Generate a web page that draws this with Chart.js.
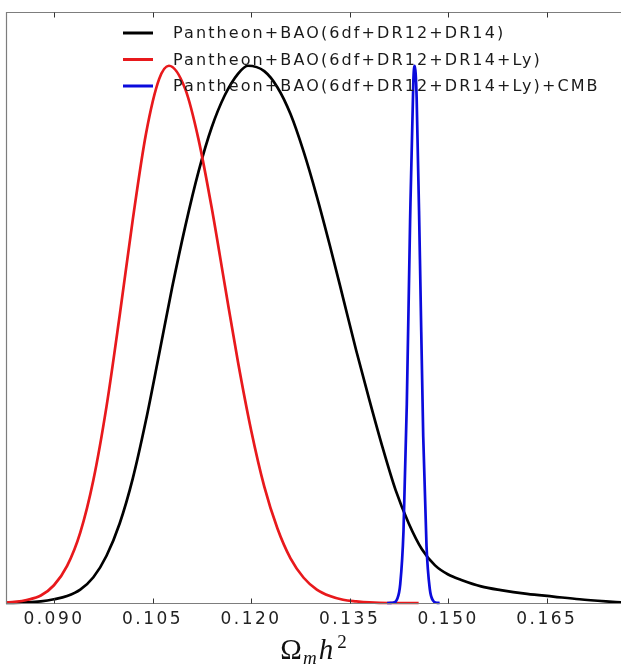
<!DOCTYPE html>
<html>
<head>
<meta charset="utf-8">
<script src="https://cdn.jsdelivr.net/npm/chart.js@4.4.1/dist/chart.umd.min.js"></script>
<style>
  html, body { margin: 0; padding: 0; background: #fff; overflow: hidden; }
  #wrap { width: 621px; height: 667px; }
</style>
</head>
<body>
<div id="wrap"><canvas id="chart"></canvas></div>
<script>
// x ticks
const tickValues = [0.090, 0.105, 0.120, 0.135, 0.150, 0.165];

const seriesLabels = [
  'Pantheon+BAO(6df+DR12+DR14)',
  'Pantheon+BAO(6df+DR12+DR14+Ly)',
  'Pantheon+BAO(6df+DR12+DR14+Ly)+CMB'
];
const seriesColors = ['#000000', '#e8191c', '#0b0bdc'];

// Pantheon+BAO(6df+DR12+DR14)
const blackX = [0.0827, 0.086, 0.088, 0.090, 0.092, 0.094, 0.096, 0.098, 0.100, 0.102, 0.104, 0.106, 0.108, 0.110, 0.112, 0.114, 0.116, 0.118, 0.1195, 0.122, 0.124, 0.126, 0.128, 0.130, 0.132, 0.134, 0.136, 0.138, 0.140, 0.142, 0.144, 0.146, 0.148, 0.150, 0.152, 0.155, 0.158, 0.162, 0.166, 0.170, 0.174, 0.1763];
const blackY = [0.000, 0.001, 0.003, 0.007, 0.013, 0.025, 0.048, 0.088, 0.148, 0.232, 0.340, 0.463, 0.588, 0.702, 0.803, 0.885, 0.945, 0.985, 1.000, 0.990, 0.960, 0.910, 0.840, 0.757, 0.665, 0.568, 0.470, 0.378, 0.290, 0.210, 0.148, 0.100, 0.070, 0.053, 0.043, 0.031, 0.024, 0.017, 0.012, 0.007, 0.003, 0.001];

// +Ly
const redX = [0.0827, 0.084, 0.086, 0.088, 0.090, 0.092, 0.094, 0.096, 0.098, 0.100, 0.102, 0.104, 0.106, 0.1075, 0.110, 0.112, 0.114, 0.116, 0.118, 0.120, 0.122, 0.124, 0.126, 0.128, 0.130, 0.132, 0.134, 0.136, 0.138, 0.141, 0.1455];
const redY = [0.001, 0.002, 0.006, 0.014, 0.033, 0.069, 0.131, 0.229, 0.366, 0.535, 0.714, 0.873, 0.975, 1.000, 0.956, 0.863, 0.736, 0.592, 0.449, 0.322, 0.217, 0.139, 0.083, 0.047, 0.025, 0.013, 0.006, 0.003, 0.001, 0.000, 0.000];

// +Ly+CMB
const blueX = [0.1407, 0.1412, 0.1417, 0.1422, 0.1427, 0.1432, 0.1437, 0.1442, 0.1447, 0.1449, 0.1452, 0.1457, 0.1462, 0.1467, 0.1472, 0.1477, 0.1482, 0.1487];
const blueY = [0.000, 0.0001, 0.0008, 0.0064, 0.035, 0.135, 0.370, 0.710, 0.973, 1.000, 0.940, 0.640, 0.310, 0.106, 0.026, 0.0044, 0.0005, 0.000];

const toPoints = (xs, ys) => xs.map((x, i) => ({ x: x, y: ys[i] }));

const spacingPlugin = {
  id: 'spacing',
  beforeLayout(chart) { chart.ctx.letterSpacing = '2.5px'; },
  beforeDraw(chart) { chart.ctx.letterSpacing = '2.5px'; }
};

// matplotlib style box with inward ticks, open on the right (cropped)
const framePlugin = {
  id: 'frame',
  afterDatasetsDraw(chart) {
    const ctx = chart.ctx;
    const a = chart.chartArea;
    const xs = chart.scales.x;
    const l = Math.round(a.left) + 0.5, t = Math.round(a.top) + 0.5, b = Math.round(a.bottom) + 0.5;
    ctx.save();
    ctx.strokeStyle = '#7d7d7d';
    ctx.lineWidth = 1.2;
    ctx.beginPath();
    ctx.moveTo(chart.width, t);
    ctx.lineTo(l, t);
    ctx.lineTo(l, b);
    ctx.lineTo(chart.width, b);
    ctx.stroke();
    ctx.strokeStyle = '#333';
    ctx.lineWidth = 1;
    tickValues.forEach(v => {
      const px = Math.round(xs.getPixelForValue(v)) + 0.5;
      ctx.beginPath();
      ctx.moveTo(px, b); ctx.lineTo(px, b - 5);
      ctx.moveTo(px, t); ctx.lineTo(px, t + 5);
      ctx.stroke();
    });
    ctx.restore();
  }
};

const legendPlugin = {
  id: 'innerLegend',
  afterDatasetsDraw(chart) {
    const ctx = chart.ctx;
    const a = chart.chartArea;
    ctx.save();
    ctx.font = '16px "DejaVu Sans"';
    ctx.letterSpacing = '2.1px';
    ctx.textBaseline = 'middle';
    ctx.fillStyle = '#1a1a1a';
    seriesLabels.forEach((label, i) => {
      const y = a.top + 21 + i * 26.5;
      ctx.strokeStyle = seriesColors[i];
      ctx.lineWidth = 3;
      ctx.beginPath();
      ctx.moveTo(a.left + 117, y);
      ctx.lineTo(a.left + 147, y);
      ctx.stroke();
      ctx.fillText(label, a.left + 167, y + 1);
    });
    ctx.restore();
  }
};

const axisTitlePlugin = {
  id: 'axisTitle',
  afterDraw(chart) {
    const ctx = chart.ctx;
    const a = chart.chartArea;
    const big = '29px "Liberation Serif"';
    const bigI = 'italic 29px "Liberation Serif"';
    const small = 'italic 19px "Liberation Serif"';
    const smallR = '19px "Liberation Serif"';
    const parts = [
      { s: '\u03A9', f: big, dy: 0, gap: 1 },
      { s: 'm', f: small, dy: 5, gap: 2 },
      { s: 'h', f: bigI, dy: 0, gap: 4 },
      { s: '2', f: smallR, dy: -11, gap: 0 }
    ];
    ctx.save();
    ctx.letterSpacing = '0px';
    ctx.fillStyle = '#111';
    ctx.textBaseline = 'alphabetic';
    let total = 0;
    parts.forEach(p => { ctx.font = p.f; p.w = ctx.measureText(p.s).width + p.gap; total += p.w; });
    let x = (a.left + chart.width) / 2 - total / 2;
    const base = 659;
    parts.forEach(p => {
      ctx.font = p.f;
      ctx.fillText(p.s, x, base + p.dy);
      x += p.w;
    });
    ctx.restore();
  }
};

const ctx = document.getElementById('chart').getContext('2d');
const chart = new Chart(ctx, {
  type: 'line',
  data: {
    datasets: [
      { label: seriesLabels[0], data: toPoints(blackX, blackY), borderColor: seriesColors[0], order: 2 },
      { label: seriesLabels[1], data: toPoints(redX, redY), borderColor: seriesColors[1], order: 1 },
      { label: seriesLabels[2], data: toPoints(blueX, blueY), borderColor: seriesColors[2], order: 0 }
    ]
  },
  options: {
    responsive: true,
    maintainAspectRatio: false,
    animation: false,
    devicePixelRatio: 1,
    datasets: {
      line: {
        borderWidth: 2.7,
        pointRadius: 0,
        fill: false,
        cubicInterpolationMode: 'monotone',
        clip: 4
      }
    },
    layout: { padding: { left: 6, top: 12, right: 0, bottom: 34 } },
    scales: {
      x: {
        type: 'linear',
        min: 0.0827,
        max: 0.1763,
        afterBuildTicks: s => { s.ticks = tickValues.map(v => ({ value: v })); },
        afterFit: s => { s.height = 30; },
        grid: { display: false },
        border: { display: false },
        ticks: {
          autoSkip: false,
          maxRotation: 0,
          padding: -2,
          color: '#222',
          font: { family: 'DejaVu Sans', size: 17 },
          callback: v => v.toFixed(3)
        }
      },
      y: { display: false, min: 0, max: 1.1 }
    },
    plugins: {
      legend: { display: false },
      tooltip: { enabled: false }
    }
  },
  plugins: [spacingPlugin, framePlugin, legendPlugin, axisTitlePlugin]
});
</script>
</body>
</html>
